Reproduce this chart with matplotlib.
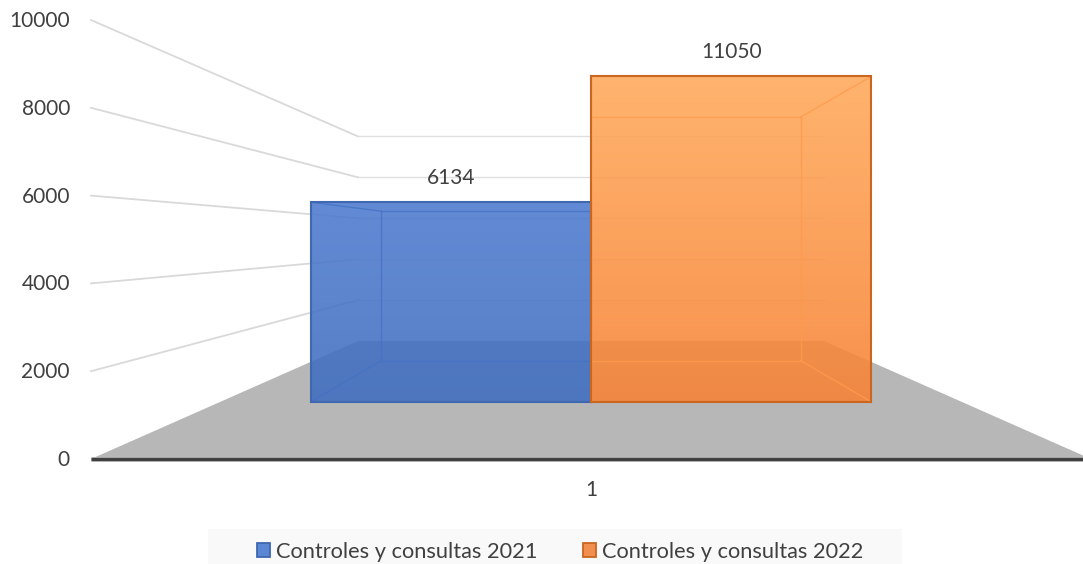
import numpy as np
import matplotlib
matplotlib.use("Agg")
import matplotlib.pyplot as plt
from matplotlib.patches import Polygon, Patch, Rectangle

plt.rcParams['font.family'] = ['Lato', 'DejaVu Sans']

SERIES = ["Controles y consultas 2021", "Controles y consultas 2022"]
VALUES = [6134, 11050]
CATEGORY = "1"
Y_TICKS = [0, 2000, 4000, 6000, 8000, 10000]
Y_MAX = 10000

# couleurs (haut, bas) du dégradé, contour, arêtes intérieures, légende
TOP_COLORS = ["#4d7bcf", "#ffa95a"]
BOTTOM_COLORS = ["#3e6dbf", "#f78234"]
EDGE_COLORS = ["#3f68b0", "#c9661f"]
INNER_COLORS = ["#4472c4", "#ff9a4d"]
LEGEND_COLORS = ["#5b86d3", "#f08f4e"]
TEXT_COLOR = "#404040"

# perspective, en pixels de l'image
VANISH_X, VANISH_Y = 591, 238
FRONT_Y = 459
HALF_WIDTH = 500
PX_PER_UNIT = 439 / Y_MAX
DEPTH_K = 1.146
BAR_FRONT, BAR_BACK = 0.304, 0.70
BAR_HALF = 0.756


def projeter(x, valeur, prof):
    # x de -1 à 1, valeur sur l'axe, prof de 0 (devant) à 1 (fond)
    s = 1 / (1 + DEPTH_K * prof)
    px = VANISH_X + x * HALF_WIDTH * s
    py = VANISH_Y + (FRONT_Y - VANISH_Y - valeur * PX_PER_UNIT) * s
    return px, py


def hex_rgb(c):
    return np.array(matplotlib.colors.to_rgb(c))


fig = plt.figure(figsize=(10.83, 5.64), dpi=100)
ax = fig.add_axes([0, 0, 1, 1])

# lignes de grille : mur gauche puis mur du fond
for t in Y_TICKS[1:]:
    p0 = projeter(-1, t, 0)
    p1 = projeter(-1, t, 1)
    p2 = projeter(1, t, 1)
    ax.plot([p0[0], p1[0]], [p0[1], p1[1]], color="#d9d9d9", lw=1.3, zorder=1)
    ax.plot([p1[0], p2[0]], [p1[1], p2[1]], color="#e0e0e0", lw=1.0, zorder=1)

# sol
sol = [projeter(-1, 0, 0), projeter(1, 0, 0), projeter(1, 0, 1), projeter(-1, 0, 1)]
ax.add_patch(Polygon(sol, closed=True, facecolor="#b7b7b7", edgecolor="none", zorder=2))

# barres
for i, v in enumerate(VALUES):
    h = min(v, Y_MAX)  # la barre de 2022 est coupée au max de l'axe
    x0 = -BAR_HALF + i * BAR_HALF
    x1 = x0 + BAR_HALF
    z = 3 + i

    a = projeter(x0, 0, BAR_FRONT)
    b = projeter(x1, 0, BAR_FRONT)
    c = projeter(x1, h, BAR_FRONT)
    d = projeter(x0, h, BAR_FRONT)
    a2 = projeter(x0, 0, BAR_BACK)
    b2 = projeter(x1, 0, BAR_BACK)
    c2 = projeter(x1, h, BAR_BACK)
    d2 = projeter(x0, h, BAR_BACK)

    grad = np.linspace(hex_rgb(TOP_COLORS[i]), hex_rgb(BOTTOM_COLORS[i]), 100).reshape(100, 1, 3)
    im = ax.imshow(grad, extent=(a[0], b[0], a[1], d[1]), aspect='auto', alpha=0.88,
                   interpolation='bilinear', zorder=z)
    face = Polygon([a, b, c, d], closed=True, facecolor="none", edgecolor="none",
                   transform=ax.transData)
    ax.add_patch(face)
    im.set_clip_path(face)

    # arêtes intérieures
    for p, q in [(a2, b2), (b2, c2), (c2, d2), (d2, a2), (a, a2), (b, b2), (c, c2), (d, d2)]:
        ax.plot([p[0], q[0]], [p[1], q[1]], color=INNER_COLORS[i], lw=1.0, alpha=0.8, zorder=z)
    ax.add_patch(Polygon([a, b, c, d], closed=True, facecolor="none",
                         edgecolor=EDGE_COLORS[i], lw=1.5, zorder=z + 0.5))

    ax.text((a[0] + b[0]) / 2, d[1] - 24, str(v), ha='center', va='center',
            fontsize=15, color=TEXT_COLOR, zorder=8)

# ligne de base
p0, p1 = projeter(-1, 0, 0), projeter(1, 0, 0)
ax.plot([p0[0], p1[0]], [p0[1], p1[1]], color="#a8a8a8", lw=3.4, zorder=6, solid_capstyle='butt')
ax.plot([p0[0], p1[0]], [p0[1], p1[1]], color="#404040", lw=2.2, zorder=7, solid_capstyle='butt')

# graduations
for t in Y_TICKS:
    px, py = projeter(-1, t, 0)
    ax.text(px - 21, py + 1, str(t), ha='right', va='center', fontsize=15, color=TEXT_COLOR)
ax.text(VANISH_X, 490.5, CATEGORY, ha='center', va='center', fontsize=15, color=TEXT_COLOR)

# légende
ax.add_patch(Rectangle((208, 529), 694, 36, facecolor="#f9f9f9", edgecolor="none", zorder=1))
handles = [Patch(facecolor=LEGEND_COLORS[i], edgecolor=EDGE_COLORS[i], lw=1.3, label=SERIES[i])
           for i in range(2)]
ax.legend(handles=handles, ncol=2, loc='center', bbox_to_anchor=(560, 552),
          bbox_transform=ax.transData, frameon=False, fontsize=15.7, labelcolor=TEXT_COLOR,
          handlelength=0.62, handleheight=0.62, handletextpad=0.25, columnspacing=2.1,
          borderpad=0, borderaxespad=0)

ax.set_xlim(0, 1083)
ax.set_ylim(564, 0)
ax.axis('off')

fig.savefig("out.png", dpi=100)
